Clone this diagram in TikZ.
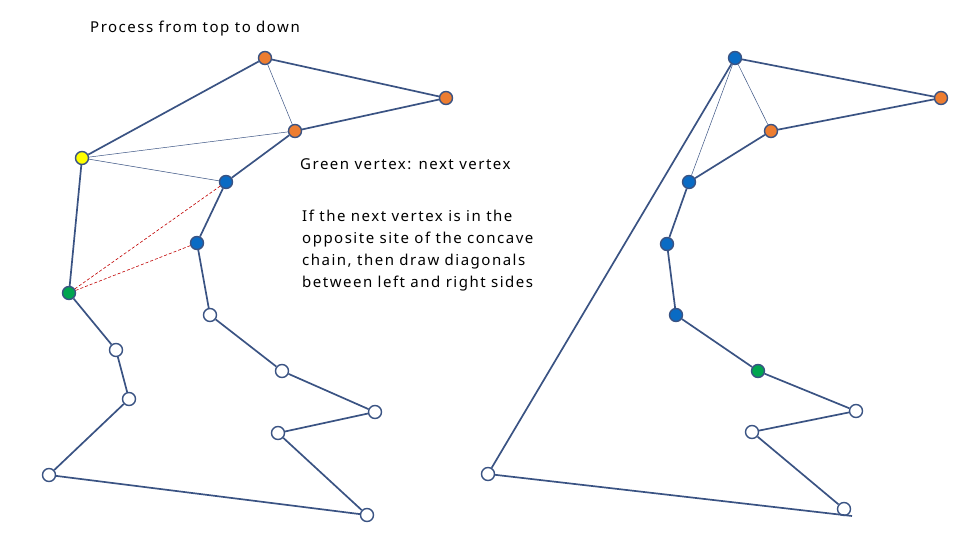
\documentclass[tikz,border=0pt]{standalone}
\usepackage{fontspec}
\setmainfont{Noto Sans}[LetterSpace=10]
\definecolor{edgec}{HTML}{3A5383}
\definecolor{orng}{HTML}{ED7D31}
\definecolor{blu}{HTML}{0A6BC4}
\definecolor{grn}{HTML}{00A550}
\definecolor{yel}{HTML}{FFFF00}
\definecolor{dred}{HTML}{C00000}
\begin{document}
\begin{tikzpicture}[x=1pt,y=-1pt,
  vtx/.style={circle,draw=edgec,line width=1.4pt,minimum size=13pt,inner sep=0pt,fill=white},
  ov/.style={vtx,fill=orng},
  bv/.style={vtx,fill=blu},
  gv/.style={vtx,fill=grn},
  yv/.style={vtx,fill=yel},
  poly/.style={draw=edgec,line width=1.7pt},
  thin/.style={draw=edgec,line width=0.5pt},
  diag/.style={draw=dred,line width=0.6pt,dash pattern=on 3pt off 2pt},
  lbl/.style={anchor=west,inner sep=0pt,font=\fontsize{15}{22}\selectfont,text=black}]
\useasboundingbox (0,0) rectangle (960,540);
% left polygon
\node[ov] (A) at (265,58) {};
\node[ov] (B) at (446,98) {};
\node[ov] (C) at (295,131) {};
\node[bv] (D) at (226,182) {};
\node[bv] (E) at (197,243) {};
\node[vtx] (F) at (210,315) {};
\node[vtx] (G) at (282,371) {};
\node[vtx] (H) at (375,412) {};
\node[vtx] (I) at (278,433) {};
\node[vtx] (J) at (367,515) {};
\node[vtx] (K) at (49,475) {};
\node[vtx] (L) at (129,399) {};
\node[vtx] (M) at (116,350) {};
\node[gv] (N) at (69,293) {};
\node[yv] (Y) at (82,158) {};
\draw[poly] (A)--(B) (B)--(C) (C)--(D) (D)--(E) (E)--(F) (F)--(G) (G)--(H) (H)--(I) (I)--(J) (J)--(K) (K)--(L) (L)--(M) (M)--(N) (N)--(Y) (Y)--(A);
\draw[thin] (A)--(C) (Y)--(C) (Y)--(D);
\draw[diag] (N)--(D) (N)--(E);
% right polygon
\node[bv] (A2) at (735,58) {};
\node[ov] (B2) at (941,98) {};
\node[ov] (C2) at (771,131) {};
\node[bv] (D2) at (689,182) {};
\node[bv] (E2) at (667,244) {};
\node[bv] (F2) at (676,315) {};
\node[gv] (G2) at (758,371) {};
\node[vtx] (H2) at (856,411) {};
\node[vtx] (I2) at (752,432) {};
\node[vtx] (J2) at (844,509) {};
\node[vtx] (K2) at (488,474) {};
\coordinate (Jend) at (852,516);
\draw[poly] (A2)--(B2) (B2)--(C2) (C2)--(D2) (D2)--(E2) (E2)--(F2) (F2)--(G2) (G2)--(H2) (H2)--(I2) (I2)--(J2) (K2)--(Jend) (K2)--(A2);
\draw[thin] (A2)--(C2) (A2)--(D2);
% texts
\node[lbl] (t1) at (90,29) {Process from top to down};
\node[lbl] (t2) at (300,164) {Green vertex: next vertex};
\node[lbl,align=left,anchor=north west] (t3) at (302,210) {If the next vertex is in the\\opposite site of the concave\\chain, then draw diagonals\\between left and right sides};
\end{tikzpicture}
\end{document}
